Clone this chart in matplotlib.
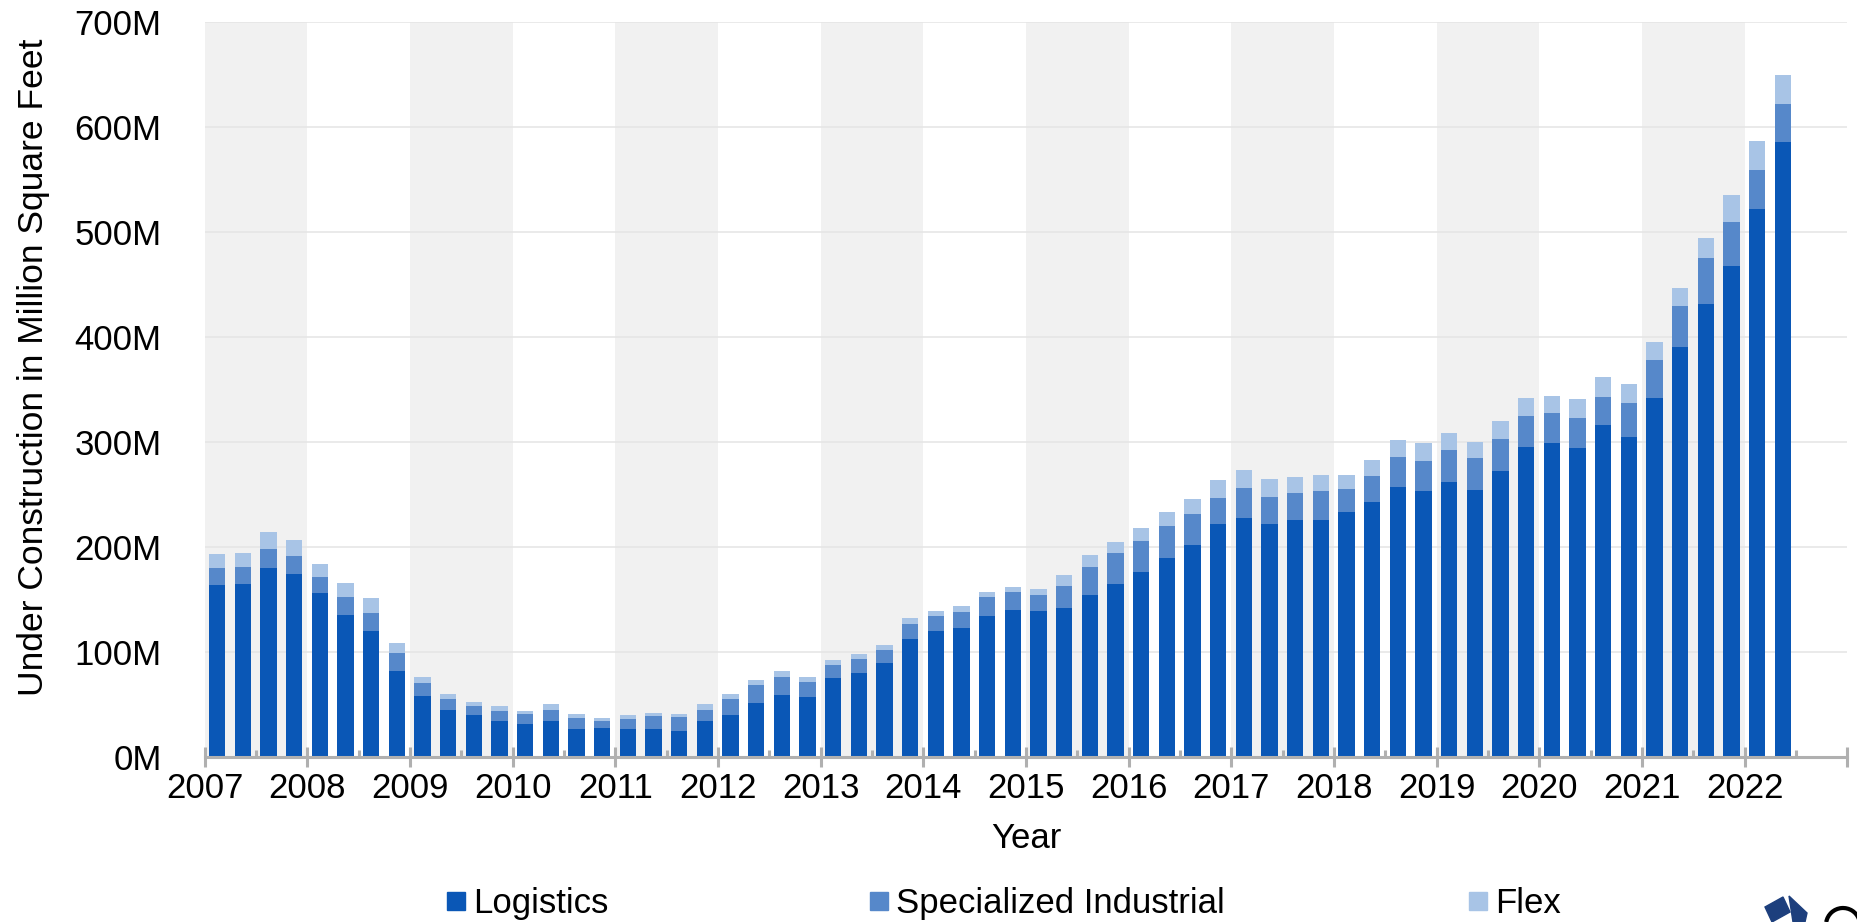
import matplotlib.pyplot as plt
import numpy as np
from matplotlib.lines import Line2D
from matplotlib.patches import Polygon, Arc

plt.rcParams['font.family'] = ['Liberation Sans', 'DejaVu Sans']

# quarterly, 2007 Q1 .. 2022 Q2 (million sq ft)
quarters = [f"{y} Q{q}" for y in range(2007, 2023) for q in range(1, 5)][:62]

logistics = [164, 165, 180, 174, 156, 135, 120, 82, 58, 45, 40, 34,
             31, 34, 26, 27, 26, 26, 25, 34, 40, 51, 59, 57,
             75, 80, 89, 112, 120, 123, 134, 140, 139, 142, 154, 165,
             176, 189, 202, 222, 228, 222, 226, 226, 233, 243, 257, 253,
             262, 254, 272, 295, 299, 294, 316, 305, 342, 391, 432, 468,
             522, 586]
specialized = [16, 16, 18, 17, 15, 17, 17, 17, 12, 10, 8, 10,
               10, 11, 11, 7, 10, 13, 13, 11, 15, 17, 17, 14,
               12, 13, 13, 15, 14, 15, 18, 17, 15, 21, 27, 29,
               30, 31, 29, 25, 28, 26, 25, 27, 22, 25, 29, 29,
               30, 31, 31, 30, 29, 29, 27, 32, 36, 39, 43, 42,
               37, 36]
flex = [13, 13, 16, 16, 13, 14, 14, 9, 6, 5, 4, 4,
        3, 5, 4, 3, 4, 3, 3, 5, 5, 5, 6, 5,
        5, 5, 5, 5, 5, 6, 5, 5, 6, 10, 11, 11,
        12, 13, 15, 17, 17, 17, 16, 16, 14, 15, 16, 17,
        17, 15, 17, 17, 16, 18, 19, 18, 17, 17, 19, 25,
        28, 28]

series = ["Logistics", "Specialized Industrial", "Flex"]
colors = ["#0A57B6", "#5688CA", "#A8C4E6"]

x = 2007 + 0.12 + 0.25 * np.arange(len(logistics))

fig = plt.figure(figsize=(18.58, 9.22), dpi=100)
ax = fig.add_axes([0.1102, 0.1792, 0.8841, 0.7966])

# alternating year bands
for yr in range(2007, 2023, 2):
    ax.axvspan(yr, yr + 1, color="#f1f1f1", zorder=0, lw=0)

for v in range(0, 701, 100):
    ax.axhline(v, color="#e6e6e6", lw=1.2, zorder=0.5)

bottom = np.zeros(len(x))
for vals, name, c in zip([logistics, specialized, flex], series, colors):
    ax.bar(x, vals, width=0.16, bottom=bottom, color=c, label=name, zorder=2)
    bottom += np.array(vals)

ax.set_xlim(2007, 2023)
ax.set_ylim(0, 700)
ax.set_yticks(range(0, 701, 100))
ax.set_yticklabels([f"{v}M" for v in range(0, 701, 100)])
ax.set_xticks(range(2007, 2024))
ax.set_xticklabels([str(y) for y in range(2007, 2023)] + [""])
ax.set_xticks(np.arange(2007.5, 2023, 1), minor=True)

for s in ["top", "right", "left"]:
    ax.spines[s].set_visible(False)
ax.spines["bottom"].set_color("#b0b0b0")
ax.spines["bottom"].set_linewidth(2.2)
ax.spines["bottom"].set_zorder(3)

ax.tick_params(axis="y", length=0, pad=31, labelsize=25)
ax.tick_params(axis="x", which="major", direction="inout", length=14, width=2.2,
               color="#b0b0b0", labelsize=25, pad=4)
ax.tick_params(axis="x", which="minor", direction="in", length=5, width=2.2,
               color="#b0b0b0")

ax.set_xlabel("Year", fontsize=25, labelpad=12)
ax.set_ylabel("Under Construction in Million Square Feet", fontsize=25.5,
              labelpad=18, y=0.53)

# legend entries placed one by one (uneven spacing as in the original)
for name, c, xpos in zip(series, colors, [0.238, 0.4655, 0.788]):
    h = Line2D([], [], marker="s", linestyle="none", markersize=12.5,
               markerfacecolor=c, markeredgecolor=c)
    fig.legend([h], [name], loc="center left", bbox_to_anchor=(xpos, 0.02),
               frameon=False, fontsize=25, handletextpad=0.1, handlelength=0.8,
               borderaxespad=0, borderpad=0)

# partial logo in the corner (pixel coordinates, origin bottom-left)
H = 922
logo_color = "#1d3f7d"
fig.patches.append(Polygon([(1765, H - 907), (1783, H - 897), (1790, H - 912), (1772, H - 922)],
                           closed=True, transform=None, color=logo_color))
fig.patches.append(Polygon([(1789, H - 896), (1807, H - 913), (1805, H - 922), (1793, H - 922)],
                           closed=True, transform=None, color=logo_color))
fig.patches.append(Arc((1843, H - 925), 34, 34, theta1=20, theta2=170,
                       transform=None, color="black", lw=3))

fig.savefig("out.png", dpi=100)
